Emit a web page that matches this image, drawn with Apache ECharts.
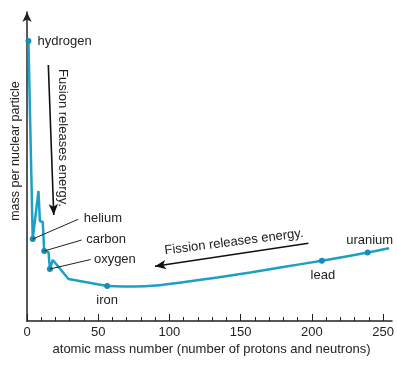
<!DOCTYPE html>
<html>
<head>
<meta charset="utf-8">
<script src="https://cdn.jsdelivr.net/npm/echarts@6/dist/echarts.min.js"></script>
<style>
html,body{margin:0;padding:0;background:#fff;}
#chart{width:397px;height:366px;}
</style>
</head>
<body>
<div id="chart"></div>
<script>
// ---- data (y in arbitrary units) ----
const massNumber      = [1, 4, 8, 9, 11, 12, 15, 16, 18, 29, 56, 75, 90, 110, 133, 156, 179, 206, 238, 253];
const massPerParticle = [280, 82, 130, 100, 99, 70, 69, 52, 61, 42, 35, 34.5, 35.5, 39, 43.5, 48.5, 54, 60.3, 68.5, 72.7];
const labeledMass  = [1, 4, 12, 16, 56, 206, 238];
const labeledNames = ['hydrogen', 'helium', 'carbon', 'oxygen', 'iron', 'lead', 'uranium'];
const xTickStep  = 50;   // labelled ticks
const xMinorStep = 10;   // small ticks
const fusionText  = 'Fusion releases energy.';
const fissionText = 'Fission releases energy.';

// ---- styling ----
const FONT = '"Liberation Sans", Arial, Helvetica, sans-serif';
const TEXT = '#222';
const LINE = '#1e9fc6';
const DOT  = '#1a8db5';
const X_MAX = 255, X_TICK_MAX = 250;
const GRID_LEFT = 27, GRID_RIGHT = 5, W = 397;
const plotW = W - GRID_LEFT - GRID_RIGHT;
const tickGridRight = W - GRID_LEFT - plotW * X_TICK_MAX / X_MAX;

const labelStyle = {
  hydrogen: {position: 'right', distance: 6, offset: [0, 0]},
  helium:   {position: 'right', distance: 5, offset: [43, -21]},
  carbon:   {position: 'right', distance: 5, offset: [34, -12]},
  oxygen:   {position: 'right', distance: 5, offset: [36, -9.5]},
  iron:     {position: 'bottom', distance: 5, offset: [0, 0]},
  lead:     {position: 'bottom', distance: 5, offset: [1, 0]},
  uranium:  {position: 'top', distance: 3, offset: [2, 0]}
};

const toItem = (a, i) => {
  const k = labeledMass.indexOf(a);
  if (k < 0) return {value: [a, massPerParticle[i]], symbol: 'none'};
  const nm = labeledNames[k];
  return {
    value: [a, massPerParticle[i]], name: nm, symbol: 'circle', symbolSize: 6,
    itemStyle: {color: DOT},
    label: Object.assign({show: true, formatter: nm, color: TEXT, fontSize: 13, fontFamily: FONT}, labelStyle[nm])
  };
};
const allItems = massNumber.map(toItem);
const ironIdx = massNumber.indexOf(56);
const lightItems = allItems.slice(0, ironIdx + 1);            // jagged part (straight segments)
const heavyItems = allItems.slice(ironIdx).map((d, j) =>     // smooth part after iron
  j === 0 ? {value: d.value, symbol: 'none'} : d);

const yOf = a => massPerParticle[massNumber.indexOf(a)];

const pointer = (a, ex, ey) => [
  {coord: [a, yOf(a)], symbol: 'none'},
  {coord: [ex, ey], symbol: 'none', lineStyle: {color: '#222', width: 1}}
];
const arrow = (sx, sy, ex, ey) => [
  {coord: [sx, sy], symbol: 'none'},
  {coord: [ex, ey], symbol: 'arrow', symbolSize: [7, 11], lineStyle: {color: '#111', width: 1.6}}
];

const chart = echarts.init(document.getElementById('chart'), null, {renderer: 'canvas'});
chart.setOption({
  animation: false,
  backgroundColor: '#fff',
  grid: [
    {left: GRID_LEFT, right: GRID_RIGHT, top: 12, bottom: 45},
    {left: GRID_LEFT, right: tickGridRight, top: 12, bottom: 45}
  ],
  xAxis: [{
    gridIndex: 0, type: 'value', min: 0, max: X_MAX,
    name: 'atomic mass number (number of protons and neutrons)',
    nameLocation: 'middle', nameGap: 22,
    nameTextStyle: {color: TEXT, fontSize: 13, fontFamily: FONT, padding: [0, 0, 0, 4]},
    axisLine: {lineStyle: {color: '#222', width: 1.5}},
    axisTick: {show: false},
    axisLabel: {show: false},
    splitLine: {show: false}
  }, {
    gridIndex: 1, type: 'value', min: 0, max: X_TICK_MAX, interval: xTickStep,
    axisLine: {show: false},
    axisTick: {show: true, inside: true, length: 7, lineStyle: {color: '#222', width: 1}},
    minorTick: {show: true, splitNumber: xTickStep / xMinorStep, length: 4, lineStyle: {color: '#222', width: 1}},
    axisLabel: {color: TEXT, fontSize: 13, fontFamily: FONT, margin: 5},
    splitLine: {show: false}
  }],
  yAxis: [{
    gridIndex: 0, type: 'value', min: 0, max: 309,
    name: 'mass per nuclear particle',
    nameLocation: 'middle', nameGap: 5,
    nameTextStyle: {color: TEXT, fontSize: 12.5, fontFamily: FONT, padding: [0, 0, 0, 31]},
    axisLine: {show: true, symbol: ['none', 'arrow'], symbolSize: [7, 10], lineStyle: {color: '#222', width: 1.5}},
    axisTick: {show: false},
    axisLabel: {show: false},
    splitLine: {show: false}
  }, {
    gridIndex: 1, type: 'value', min: 0, max: 309, show: false
  }],
  series: [{
    type: 'line',
    data: lightItems,
    lineStyle: {color: LINE, width: 2.5},
    itemStyle: {color: DOT},
    z: 3,
    markLine: {
      silent: true,
      label: {show: false},
      emphasis: {disabled: true},
      lineStyle: {type: 'solid'},
      data: [
        pointer(4, 35.8, 101.7),
        pointer(12, 38.2, 81),
        pointer(16, 44.5, 61.5),
        arrow(14.9, 256, 18.7, 106),
        arrow(196.6, 77.7, 89.4, 54.7)
      ]
    },
    markPoint: {
      silent: true,
      symbol: 'circle', symbolSize: 0,
      label: {show: true, position: 'inside', color: TEXT, fontSize: 13, fontFamily: FONT},
      data: [
        {coord: [24.9, 183], label: {formatter: fusionText, rotate: -90}},
        {coord: [144.6, 79], label: {formatter: fissionText, rotate: 7.2}}
      ]
    }
  }, {
    type: 'line',
    data: heavyItems,
    smooth: 0.35,
    lineStyle: {color: LINE, width: 2.5},
    itemStyle: {color: DOT},
    z: 3
  }]
});
</script>
</body>
</html>
